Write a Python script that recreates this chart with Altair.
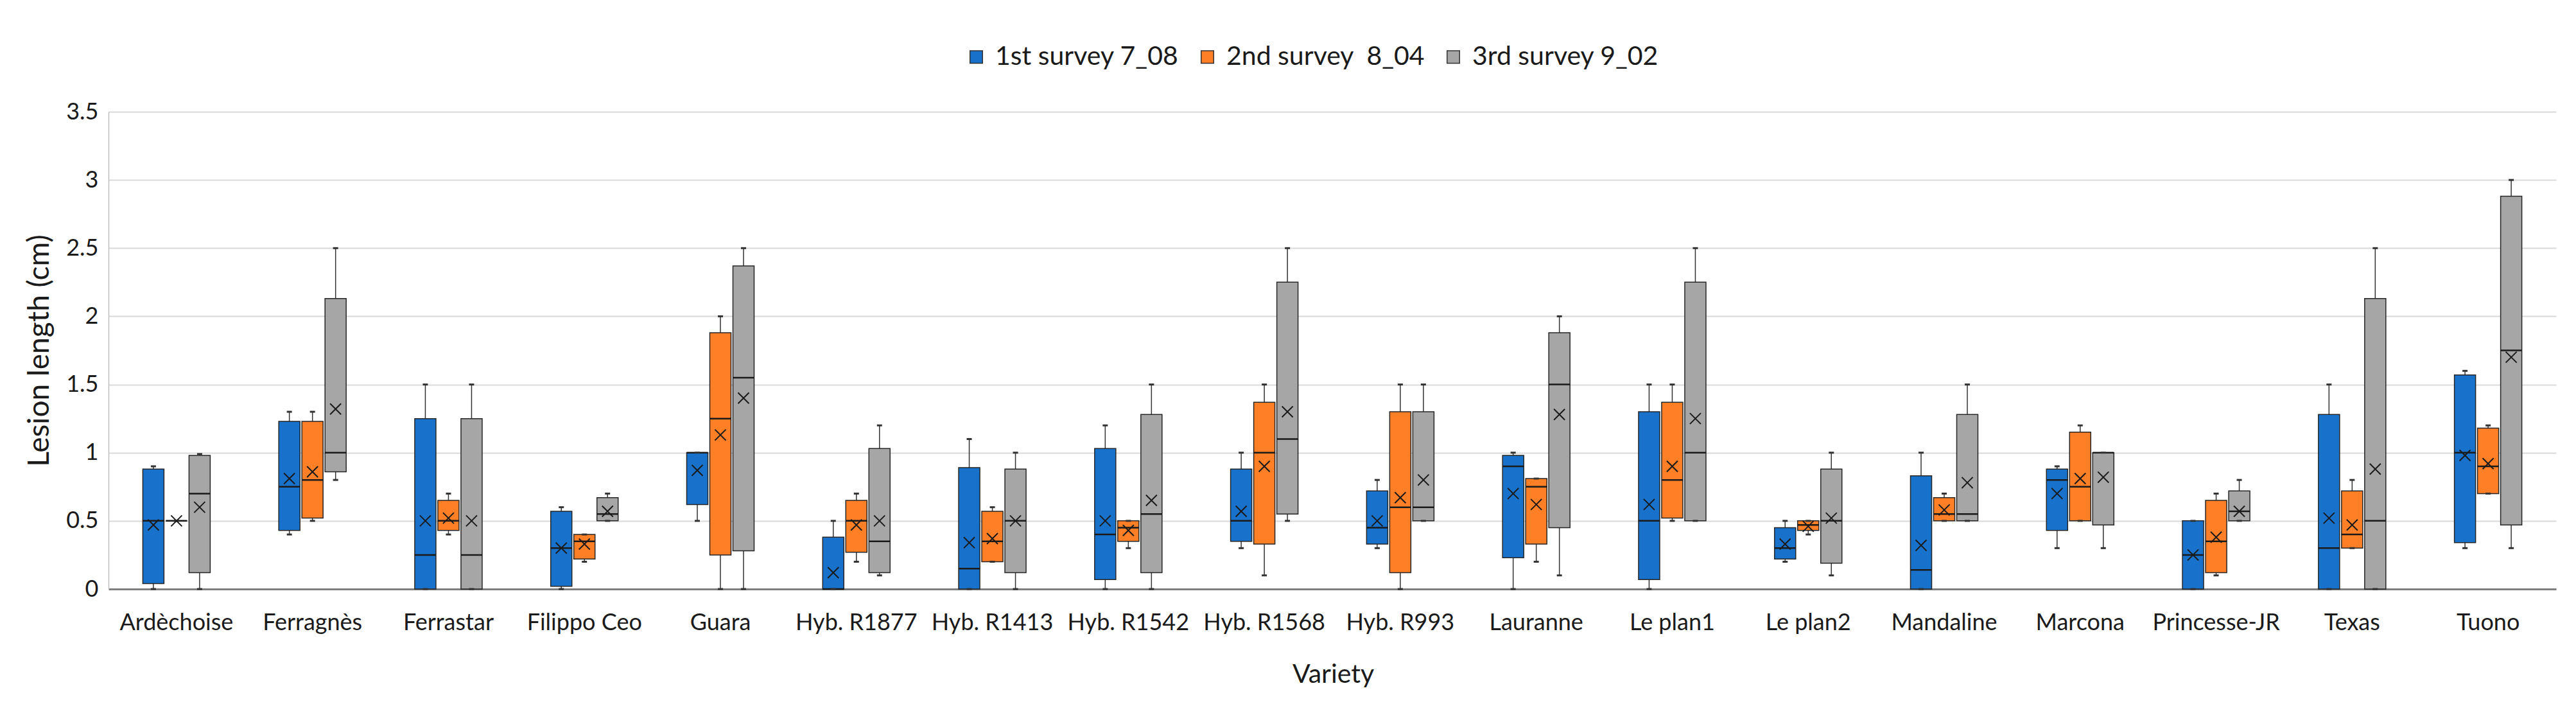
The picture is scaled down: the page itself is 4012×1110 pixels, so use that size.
import altair as alt
import pandas as pd

varieties = ["Ardèchoise", "Ferragnès", "Ferrastar", "Filippo Ceo", "Guara",
             "Hyb. R1877", "Hyb. R1413", "Hyb. R1542", "Hyb. R1568", "Hyb. R993",
             "Lauranne", "Le plan1", "Le plan2", "Mandaline", "Marcona",
             "Princesse-JR", "Texas", "Tuono"]
surveys = ["1st survey 7_08", "2nd survey\u00a0 8_04", "3rd survey 9_02"]
colors = ["#1872CC", "#FF7F27", "#A6A6A6"]

# 1st survey 7_08
s1_min  = [0.00, 0.40, 0.00, 0.00, 0.50, 0.00, 0.00, 0.00, 0.30, 0.30, 0.00, 0.00, 0.20, 0.00, 0.30, 0.00, 0.00, 0.30]
s1_q1   = [0.04, 0.43, 0.00, 0.02, 0.62, 0.00, 0.00, 0.07, 0.35, 0.33, 0.23, 0.07, 0.22, 0.00, 0.43, 0.00, 0.00, 0.34]
s1_med  = [0.50, 0.75, 0.25, 0.30, 1.00, 0.00, 0.15, 0.40, 0.50, 0.45, 0.90, 0.50, 0.30, 0.14, 0.80, 0.25, 0.30, 1.00]
s1_q3   = [0.88, 1.23, 1.25, 0.57, 1.00, 0.38, 0.89, 1.03, 0.88, 0.72, 0.98, 1.30, 0.45, 0.83, 0.88, 0.50, 1.28, 1.57]
s1_max  = [0.90, 1.30, 1.50, 0.60, 1.00, 0.50, 1.10, 1.20, 1.00, 0.80, 1.00, 1.50, 0.50, 1.00, 0.90, 0.50, 1.50, 1.60]
s1_mean = [0.47, 0.81, 0.50, 0.30, 0.87, 0.12, 0.34, 0.50, 0.57, 0.50, 0.70, 0.62, 0.33, 0.32, 0.70, 0.25, 0.52, 0.98]

# 2nd survey 8_04
s2_min  = [0.50, 0.50, 0.40, 0.20, 0.00, 0.20, 0.20, 0.30, 0.10, 0.00, 0.20, 0.50, 0.40, 0.50, 0.50, 0.10, 0.30, 0.70]
s2_q1   = [0.50, 0.52, 0.43, 0.22, 0.25, 0.27, 0.20, 0.35, 0.33, 0.12, 0.33, 0.52, 0.43, 0.50, 0.50, 0.12, 0.30, 0.70]
s2_med  = [0.50, 0.80, 0.50, 0.35, 1.25, 0.50, 0.35, 0.45, 1.00, 0.60, 0.75, 0.80, 0.47, 0.55, 0.75, 0.35, 0.40, 0.90]
s2_q3   = [0.50, 1.23, 0.65, 0.40, 1.88, 0.65, 0.57, 0.50, 1.37, 1.30, 0.81, 1.37, 0.50, 0.67, 1.15, 0.65, 0.72, 1.18]
s2_max  = [0.50, 1.30, 0.70, 0.40, 2.00, 0.70, 0.60, 0.50, 1.50, 1.50, 0.81, 1.50, 0.50, 0.70, 1.20, 0.70, 0.80, 1.20]
s2_mean = [0.50, 0.86, 0.52, 0.33, 1.13, 0.47, 0.37, 0.43, 0.90, 0.67, 0.62, 0.90, 0.46, 0.58, 0.81, 0.38, 0.47, 0.92]

# 3rd survey 9_02
s3_min  = [0.00, 0.80, 0.00, 0.50, 0.00, 0.10, 0.00, 0.00, 0.50, 0.50, 0.10, 0.50, 0.10, 0.50, 0.30, 0.50, 0.00, 0.30]
s3_q1   = [0.12, 0.86, 0.00, 0.50, 0.28, 0.12, 0.12, 0.12, 0.55, 0.50, 0.45, 0.50, 0.19, 0.50, 0.47, 0.50, 0.00, 0.47]
s3_med  = [0.70, 1.00, 0.25, 0.55, 1.55, 0.35, 0.50, 0.55, 1.10, 0.60, 1.50, 1.00, 0.50, 0.55, 1.00, 0.57, 0.50, 1.75]
s3_q3   = [0.98, 2.13, 1.25, 0.67, 2.37, 1.03, 0.88, 1.28, 2.25, 1.30, 1.88, 2.25, 0.88, 1.28, 1.00, 0.72, 2.13, 2.88]
s3_max  = [0.99, 2.50, 1.50, 0.70, 2.50, 1.20, 1.00, 1.50, 2.50, 1.50, 2.00, 2.50, 1.00, 1.50, 1.00, 0.80, 2.50, 3.00]
s3_mean = [0.60, 1.32, 0.50, 0.57, 1.40, 0.50, 0.50, 0.65, 1.30, 0.80, 1.28, 1.25, 0.52, 0.78, 0.82, 0.57, 0.88, 1.70]

y_ticks = [0, 0.5, 1, 1.5, 2, 2.5, 3, 3.5]

series = [
    (s1_min, s1_q1, s1_med, s1_q3, s1_max, s1_mean),
    (s2_min, s2_q1, s2_med, s2_q3, s2_max, s2_mean),
    (s3_min, s3_q1, s3_med, s3_q3, s3_max, s3_mean),
]
rows = []
for s, (mn, q1, md, q3, mx, me) in zip(surveys, series):
    for i, v in enumerate(varieties):
        rows.append(dict(variety=v, survey=s, lo=mn[i], q1=q1[i], med=md[i],
                         q3=q3[i], hi=mx[i], mean=me[i]))
df = pd.DataFrame(rows)

FONT = "Lato"
W, H = 3812, 743

yscale = alt.Scale(domain=[0, 3.5], nice=False, zero=True)
yaxis = alt.Axis(title="Lesion length (cm)", values=y_ticks, format="~g",
                 ticks=False, labelPadding=16, labelFontSize=36, labelFont=FONT,
                 labelColor="#1a1a1a", domainColor="#BFBFBF", domainWidth=1.5,
                 grid=True, gridColor="#D9D9D9", gridWidth=2,
                 titleFont=FONT, titleFontSize=46, titleFontWeight="normal",
                 titleColor="#1a1a1a", titleX=-108, titleY=H / 2, titleAngle=270,
                 titleAlign="center", titleBaseline="middle")
xaxis = alt.Axis(title="Variety", labelAngle=0, ticks=False, labelPadding=35,
                 labelFontSize=36, labelFont=FONT, labelColor="#1a1a1a",
                 labelLimit=0, labelOverlap=False,
                 domainColor="#7F7F7F", domainWidth=3, grid=False,
                 titleFont=FONT, titleFontSize=41, titleFontWeight="normal",
                 titleColor="#1a1a1a", titleY=145, titleX=W / 2 + 1,
                 titleBaseline="alphabetic", titleAlign="center")

base = alt.Chart(df).encode(
    x=alt.X("variety:N", sort=varieties,
            scale=alt.Scale(paddingInner=0.49, paddingOuter=0.245), axis=xaxis),
    xOffset=alt.XOffset("survey:N", sort=surveys,
                        scale=alt.Scale(paddingInner=0.0833, paddingOuter=0.0417)),
)

lower = base.mark_rule(color="#333333", strokeWidth=1.5).encode(
    y=alt.Y("lo:Q", scale=yscale, axis=yaxis), y2="q1:Q")
upper = base.mark_rule(color="#333333", strokeWidth=1.5).encode(
    y=alt.Y("q3:Q", scale=yscale, axis=yaxis), y2="hi:Q")
box = base.mark_bar(stroke="#262626", strokeWidth=1.5).encode(
    y=alt.Y("q1:Q", scale=yscale, axis=yaxis), y2="q3:Q",
    color=alt.Color("survey:N", sort=surveys,
                    scale=alt.Scale(domain=surveys, range=colors),
                    legend=alt.Legend(title=None, orient="none", direction="horizontal",
                                      legendX=1331, legendY=-106,
                                      symbolType="square", symbolSize=380,
                                      symbolStrokeColor="#333333", symbolStrokeWidth=1.5,
                                      labelFont=FONT, labelFontSize=41, labelLimit=0,
                                      labelColor="#1a1a1a", labelOffset=9,
                                      columnPadding=24)))
med = base.mark_tick(color="#1a1a1a", thickness=2.5, size=33, opacity=1).encode(
    y=alt.Y("med:Q", scale=yscale, axis=yaxis))
cap_lo = base.mark_tick(color="#333333", thickness=3, size=8, opacity=1).encode(
    y=alt.Y("lo:Q", scale=yscale, axis=yaxis))
cap_hi = base.mark_tick(color="#333333", thickness=3, size=8, opacity=1).encode(
    y=alt.Y("hi:Q", scale=yscale, axis=yaxis))
mean = base.mark_point(shape="M-1,-1L1,1M-1,1L1,-1", size=290, filled=False,
                       color="#1a1a1a", strokeWidth=2, opacity=1).encode(
    y=alt.Y("mean:Q", scale=yscale, axis=yaxis))

chart = alt.layer(lower, upper, box, med, cap_lo, cap_hi, mean).properties(
    width=W, height=H,
    padding={"left": 161, "top": 166, "right": 23, "bottom": 185},
    autosize=alt.AutoSizeParams(type="none"),
    background="white",
).configure_view(stroke=None)

chart.save("out.html", embed_options={"renderer": "svg", "actions": False})
